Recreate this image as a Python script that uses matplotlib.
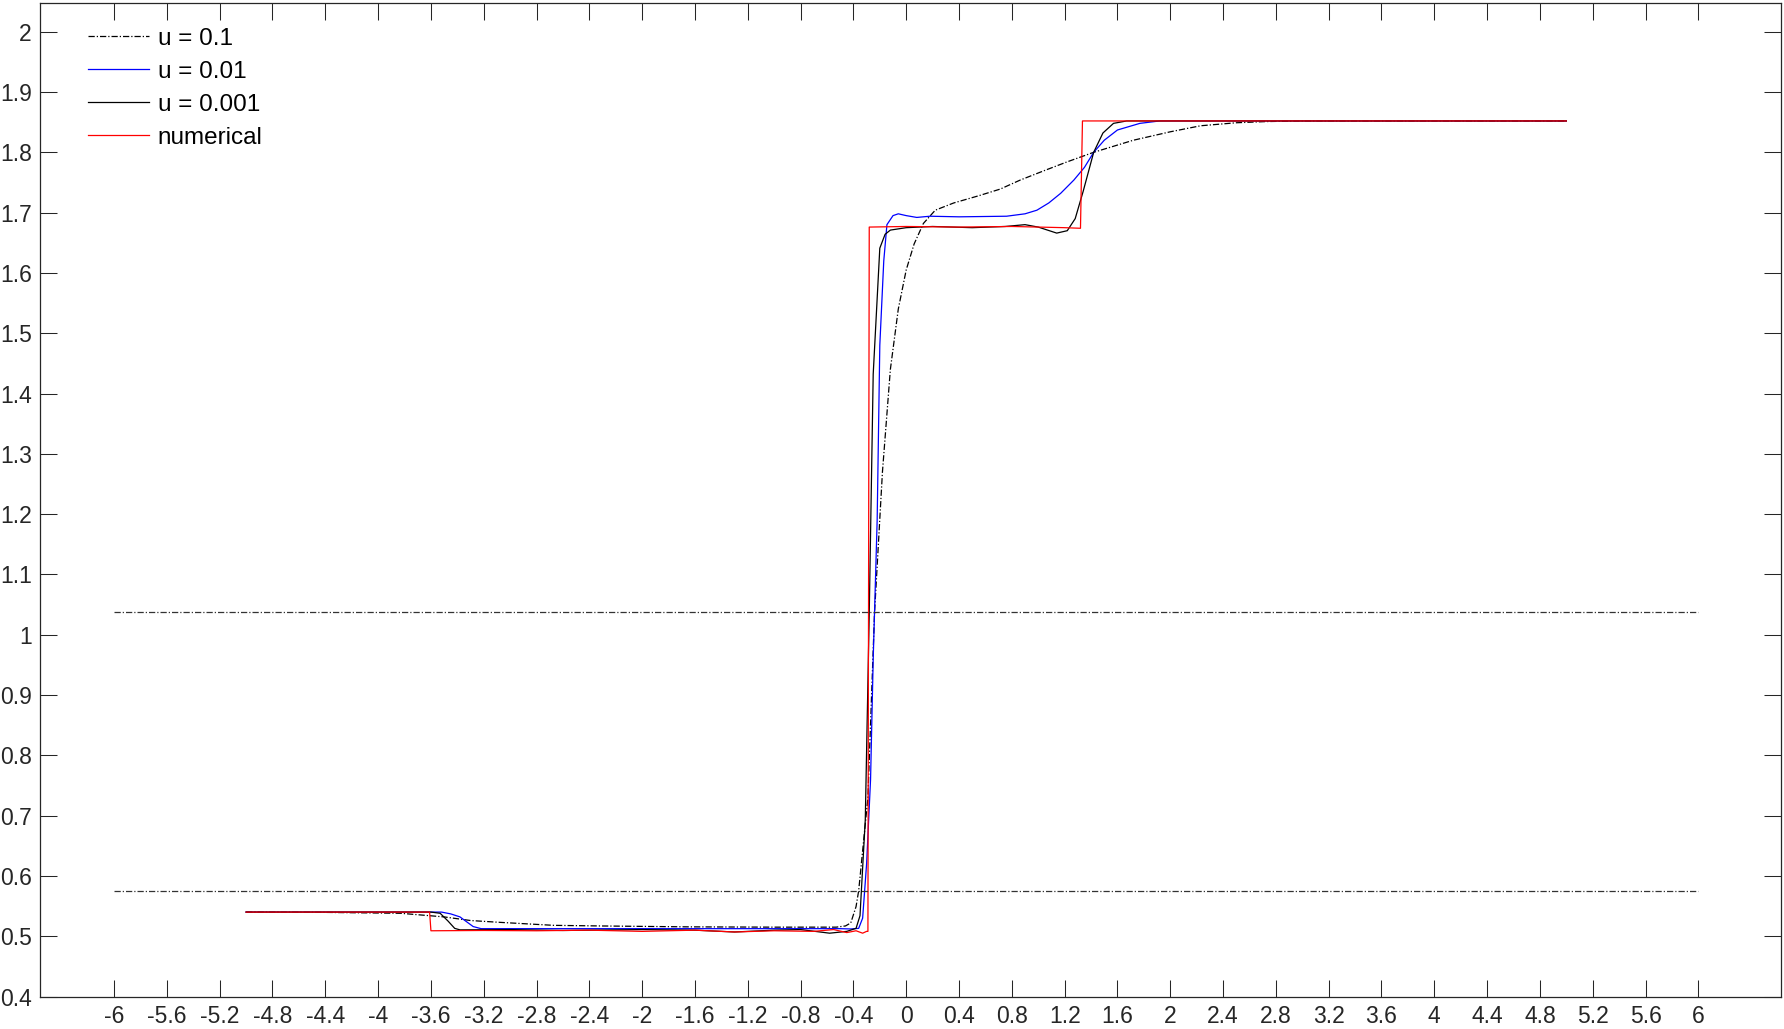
import matplotlib
matplotlib.use("Agg")
import matplotlib.pyplot as plt
import numpy as np
from matplotlib.ticker import FuncFormatter, MultipleLocator

# values
x_num = [-5.0, -3.61, -3.60, -3.2, -2.8, -2.4, -2.0, -1.6, -1.3, -1.0, -0.7,
         -0.55, -0.45, -0.38, -0.33, -0.30, -0.29, -0.28, 0.0, 0.4, 0.8, 1.2,
         1.32, 1.335, 5.0]
y_num = [0.540, 0.540, 0.509, 0.5095, 0.509, 0.510, 0.508, 0.510, 0.507, 0.509,
         0.508, 0.511, 0.506, 0.509, 0.505, 0.508, 0.508, 1.676, 1.677, 1.676,
         1.677, 1.675, 1.674, 1.852, 1.852]

x_u001 = [-5.0, -3.6, -3.53, -3.47, -3.42, -3.38, -3.0, -2.6, -2.0, -1.6, -1.3,
          -1.0, -0.8, -0.58, -0.45, -0.38, -0.35, -0.31, -0.28, -0.25, -0.20,
          -0.16, -0.12, 0.0, 0.2, 0.5, 0.75, 0.9, 1.0, 1.14, 1.22, 1.28, 1.34,
          1.42, 1.49, 1.57, 1.67, 5.0]
y_u001 = [0.540, 0.540, 0.538, 0.525, 0.513, 0.5105, 0.511, 0.5095, 0.511, 0.510,
          0.507, 0.510, 0.511, 0.505, 0.508, 0.513, 0.534, 0.693, 1.036, 1.432,
          1.641, 1.664, 1.671, 1.675, 1.677, 1.675, 1.677, 1.680, 1.676, 1.666,
          1.670, 1.69, 1.735, 1.80, 1.832, 1.848, 1.852, 1.852]

x_u01 = [-5.0, -3.52, -3.45, -3.38, -3.33, -3.28, -3.22, -3.0, -2.0, -1.0, -0.5,
         -0.42, -0.36, -0.33, -0.30, -0.27, -0.25, -0.22, -0.20, -0.17, -0.146,
         -0.10, -0.06, 0.0, 0.08, 0.18, 0.4, 0.76, 0.9, 0.99, 1.08, 1.17, 1.27,
         1.35, 1.42, 1.50, 1.60, 1.77, 1.92, 5.0]
y_u01 = [0.540, 0.540, 0.537, 0.532, 0.524, 0.516, 0.5125, 0.5125, 0.5125, 0.5125,
         0.5125, 0.512, 0.513, 0.53, 0.62, 0.76, 0.96, 1.19, 1.48, 1.62, 1.68,
         1.695, 1.698, 1.695, 1.692, 1.694, 1.693, 1.694, 1.698, 1.704, 1.716,
         1.732, 1.754, 1.775, 1.80, 1.82, 1.837, 1.848, 1.852, 1.852]

x_u1 = [-5.0, -4.4, -3.83, -3.5, -3.3, -3.08, -2.67, -2.32, -1.66, -1.0, -0.53,
        -0.46, -0.42, -0.38, -0.36, -0.29, -0.24, -0.18, -0.12, -0.06, 0.0, 0.06,
        0.13, 0.22, 0.36, 0.55, 0.712, 0.864, 1.05, 1.217, 1.42, 1.72, 2.0, 2.23,
        2.5, 2.73, 3.0, 5.0]
y_u1 = [0.540, 0.5395, 0.538, 0.532, 0.526, 0.523, 0.518, 0.517, 0.5155, 0.515,
        0.515, 0.517, 0.522, 0.549, 0.5755, 0.73, 1.036, 1.27, 1.44, 1.54, 1.605,
        1.648, 1.682, 1.704, 1.716, 1.728, 1.739, 1.754, 1.770, 1.784, 1.80, 1.82,
        1.834, 1.844, 1.849, 1.851, 1.852, 1.852]

x_ref = [-6.0, 6.0]
y_ref_hi = [1.0375, 1.0375]
y_ref_lo = [0.5755, 0.5755]

plt.rcParams["font.family"] = ["Liberation Sans", "DejaVu Sans"]
plt.rcParams["axes.unicode_minus"] = False

fig = plt.figure(figsize=(17.84, 10.29), dpi=100)
ax = fig.add_axes([40 / 1784, 1 - 996.5 / 1029, 1741 / 1784, 993.5 / 1029])

dashdot = (0, (5, 1.6, 1, 1.6))
edge = "#262626"

ax.plot(x_u1, y_u1, color="black", lw=0.9, linestyle=dashdot, label="u = 0.1")
ax.plot(x_u01, y_u01, color="#0000ff", lw=0.9, label="u = 0.01")
ax.plot(x_u001, y_u001, color="black", lw=0.9, label="u = 0.001")
ax.plot(x_num, y_num, color="#ff0000", lw=0.9, label="numerical")
ax.plot(x_ref, y_ref_hi, color="#333333", lw=0.9, linestyle=dashdot)
ax.plot(x_ref, y_ref_lo, color="#333333", lw=0.9, linestyle=dashdot)

ax.set_xlim(-6.561, 6.626)
ax.set_ylim(0.4, 2.0476)
ax.set_xticks(np.round(np.arange(-6, 6.001, 0.4), 1))
ax.yaxis.set_major_locator(MultipleLocator(0.1))
fmt = FuncFormatter(lambda v, p: f"{round(v, 1):g}")
ax.xaxis.set_major_formatter(fmt)
ax.yaxis.set_major_formatter(fmt)

ax.tick_params(axis="both", direction="in", length=12, width=0.75,
               top=True, right=True, colors=edge, labelsize=16.5,
               labelcolor="#262626")
ax.tick_params(axis="x", pad=6)
ax.tick_params(axis="y", pad=6)
for s in ax.spines.values():
    s.set_color(edge)
    s.set_linewidth(0.9)

ax.legend(loc="upper left", bbox_to_anchor=(0.0276, 0.975), frameon=False,
          fontsize=17.5, handlelength=2.5, handletextpad=0.37,
          labelspacing=0.45, borderpad=0, borderaxespad=0)

fig.savefig("out.png", dpi=100)
